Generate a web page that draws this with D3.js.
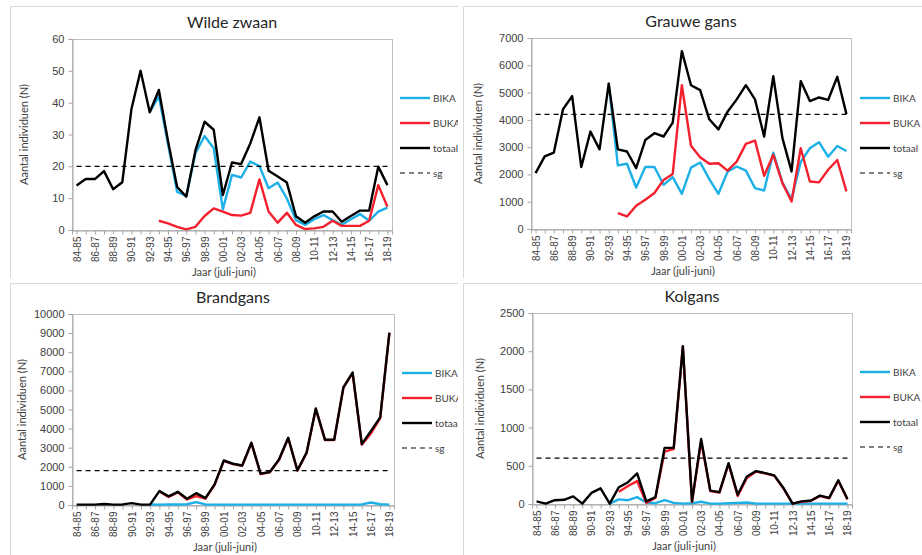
<!DOCTYPE html>
<html>
<head>
<meta charset="utf-8">
<script src="https://cdn.jsdelivr.net/npm/d3@7"></script>
<style>
  body { margin: 0; background: #fff; }
  svg { display: block; font-family: Lato, 'Open Sans', sans-serif; }
</style>
</head>
<body>
<svg id="chart" width="922" height="555"></svg>
<script>
// seizoenen (juli-juni)
const seasons = ['84-85', '85-86', '86-87', '87-88', '88-89', '89-90', '90-91', '91-92', '92-93', '93-94',
  '94-95', '95-96', '96-97', '97-98', '98-99', '99-00', '00-01', '01-02', '02-03', '03-04', '04-05',
  '05-06', '06-07', '07-08', '08-09', '09-10', '10-11', '11-12', '12-13', '13-14', '14-15', '15-16',
  '16-17', '17-18', '18-19'];
const legendNames = ['BIKA', 'BUKA', 'totaal', 'sg'];

// Wilde zwaan
const zwaanTotaal = [14, 16, 16, 18.5, 12.8, 15, 38, 50, 37, 44, 28, 13.5, 10.5, 25, 34, 31.5, 11, 21.2, 20.7,
  27.2, 35.4, 18.6, 16.8, 14.9, 4.3, 2.3, 4.3, 5.8, 5.8, 2.6, 4.4, 6.1, 6.1, 19.9, 14.1];
const zwaanBika = [null, null, null, null, null, null, null, null, 37, 42, 27, 12, 10.7, 24.1, 29.5, 25.7, 6.5,
  17.3, 16.5, 21.5, 20.1, 13.1, 14.9, 9.9, 3.1, 1.6, 3.4, 4.7, 3.1, 1.6, 3.4, 5, 2.9, 5.8, 7];
const zwaanBuka = [null, null, null, null, null, null, null, null, null, 2.9, 2.1, 1, 0.2, 1, 4.4, 6.8, 5.8,
  4.7, 4.5, 5.4, 15.9, 5.8, 2.3, 5.4, 1.6, 0.3, 0.5, 1, 2.9, 1.3, 1.3, 1.3, 2.9, 14.1, 7.3];
const zwaanSg = 20;
const zwaanTicks = [0, 10, 20, 30, 40, 50, 60];

// Grauwe gans
const grauweTotaal = [2050, 2660, 2800, 4390, 4870, 2270, 3570, 2920, 5330, 2920, 2840, 2230, 3260, 3510, 3390,
  3900, 6520, 5270, 5090, 4020, 3650, 4300, 4750, 5270, 4750, 3390, 5600, 3330, 2110, 5420, 4690, 4820, 4730,
  5580, 4210];
const grauweBika = [null, null, null, null, null, null, null, null, 5330, 2330, 2390, 1520, 2270, 2270, 1620,
  1900, 1290, 2250, 2440, 1830, 1290, 2100, 2290, 2140, 1500, 1410, 2800, 1700, 1100, 2460, 2960, 3180, 2650,
  3040, 2860];
const grauweBuka = [null, null, null, null, null, null, null, null, null, 580, 460, 850, 1070, 1320, 1800, 2020,
  5270, 3050, 2630, 2390, 2410, 2140, 2470, 3120, 3240, 1950, 2720, 1680, 1010, 2960, 1740, 1710, 2170, 2530,
  1380];
const grauweSg = 4200;
const grauweTicks = [0, 1000, 2000, 3000, 4000, 5000, 6000, 7000];

// Brandgans
const brandTotaal = [20, 20, 20, 50, 20, 30, 100, 20, 30, 730, 450, 690, 330, 620, 360, 1080, 2330, 2160, 2070,
  3260, 1640, 1730, 2380, 3520, 1820, 2740, 5050, 3420, 3420, 6160, 6930, 3190, 3880, 4590, 9030];
const brandBika = [null, null, null, null, null, null, null, null, 30, 20, 30, 30, 40, 150, 30, 20, 20, 20, 20,
  20, 20, 20, 20, 20, 20, 20, 20, 20, 20, 20, 20, 30, 130, 40, 20];
const brandBuka = [null, null, null, null, null, null, null, null, null, 710, 420, 660, 290, 470, 330, 1060, 2310,
  2140, 2050, 3240, 1620, 1710, 2360, 3500, 1800, 2720, 5030, 3400, 3400, 6140, 6910, 3160, 3750, 4550, 9010];
const brandSg = 1800;
const brandTicks = [0, 1000, 2000, 3000, 4000, 5000, 6000, 7000, 8000, 9000, 10000];

// Kolgans
const kolTotaal = [35, 5, 50, 55, 100, 5, 145, 205, 5, 220, 285, 400, 35, 90, 735, 735, 2065, 35, 850, 175, 155,
  535, 120, 360, 430, 405, 375, 210, 5, 35, 45, 110, 80, 310, 65];
const kolBika = [null, null, null, null, null, null, null, null, 5, 60, 50, 90, 20, 10, 50, 15, 5, 10, 30, 5, 5,
  10, 15, 20, 5, 5, 5, 5, 5, 5, 5, 5, 5, 5, 5];
const kolBuka = [null, null, null, null, null, null, null, null, null, 160, 235, 300, 15, 80, 685, 720, 2060, 25,
  820, 170, 150, 525, 105, 340, 425, 400, 370, 205, 5, 30, 40, 105, 75, 305, 60];
const kolSg = 600;
const kolTicks = [0, 500, 1000, 1500, 2000, 2500];

const colors = { BIKA: '#1cb0e6', BUKA: '#f5202e', totaal: '#000000', sg: '#000000' };

const panels = [
  {
    title: 'Wilde zwaan', frame: [10, 6, 448, 272], l: 72, r: 392, t: 39, b: 230,
    ticks: zwaanTicks, bika: zwaanBika, buka: zwaanBuka, totaal: zwaanTotaal, sg: zwaanSg,
    titleY: 28, yLabelX: 28, legX: 400, legY: 98,
  },
  {
    title: 'Grauwe gans', frame: [463, 6, 470, 272], l: 531, r: 851, t: 38, b: 229,
    ticks: grauweTicks, bika: grauweBika, buka: grauweBuka, totaal: grauweTotaal, sg: grauweSg,
    titleY: 27, yLabelX: 482, legX: 860, legY: 98,
  },
  {
    title: 'Brandgans', frame: [10, 283, 448, 280], l: 72, r: 394, t: 314, b: 505,
    ticks: brandTicks, bika: brandBika, buka: brandBuka, totaal: brandTotaal, sg: brandSg,
    titleY: 303, yLabelX: 26, legX: 402, legY: 373,
  },
  {
    title: 'Kolgans', frame: [463, 283, 470, 280], l: 532, r: 852, t: 313, b: 504,
    ticks: kolTicks, bika: kolBika, buka: kolBuka, totaal: kolTotaal, sg: kolSg,
    titleY: 302, yLabelX: 484, legX: 860, legY: 372,
  },
];

const svg = d3.select('#chart');
const defs = svg.append('defs');

panels.forEach((p, idx) => {
  const [fx, fy, fw, fh] = p.frame;
  defs.append('clipPath').attr('id', `clip${idx}`)
    .append('rect')
    .attr('x', fx)
    .attr('y', fy)
    .attr('width', fw)
    .attr('height', fh);

  const g = svg.append('g').attr('clip-path', `url(#clip${idx})`);
  g.append('rect')
    .attr('x', fx + 0.5)
    .attr('y', fy + 0.5)
    .attr('width', fw)
    .attr('height', fh)
    .attr('fill', '#fff')
    .attr('stroke', '#d9d9d9');

  const x = d3.scalePoint().domain(seasons).range([p.l, p.r]).padding(0.5);
  const y = d3.scaleLinear().domain([0, d3.max(p.ticks)]).range([p.b, p.t]);

  // kader om plotgebied
  g.append('rect')
    .attr('x', p.l + 0.5)
    .attr('y', p.t + 0.5)
    .attr('width', p.r - p.l)
    .attr('height', p.b - p.t)
    .attr('fill', 'none')
    .attr('stroke', '#bfbfbf');

  const yAxis = g.append('g')
    .attr('transform', `translate(${p.l + 0.5},0)`)
    .call(d3.axisLeft(y).tickValues(p.ticks).tickFormat(d3.format('d')).tickSize(4).tickPadding(4));
  yAxis.select('.domain').attr('stroke', '#a6a6a6');
  yAxis.selectAll('line').attr('stroke', '#a6a6a6');
  yAxis.selectAll('text').attr('fill', '#404040').style('font-size', '11px');

  const xAxis = g.append('g')
    .attr('transform', `translate(0,${p.b + 0.5})`)
    .call(d3.axisBottom(x).tickSize(4).tickFormat((d, i) => (i % 2 === 0 ? d : '')));
  xAxis.select('.domain').attr('stroke', '#a6a6a6');
  xAxis.selectAll('line').attr('stroke', '#a6a6a6');
  xAxis.selectAll('text')
    .attr('transform', 'rotate(-90)')
    .attr('text-anchor', 'end')
    .attr('x', -6)
    .attr('y', 0)
    .attr('dy', '0.35em')
    .attr('fill', '#404040')
    .style('font-size', '10px');

  g.append('text')
    .attr('x', (p.l + p.r) / 2)
    .attr('y', p.titleY)
    .attr('text-anchor', 'middle')
    .attr('fill', '#262626')
    .style('font-size', '16px')
    .text(p.title);

  g.append('text')
    .attr('transform', `translate(${p.yLabelX},${(p.t + p.b) / 2}) rotate(-90)`)
    .attr('text-anchor', 'middle')
    .attr('fill', '#404040')
    .style('font-size', '11px')
    .text('Aantal individuen (N)');

  g.append('text')
    .attr('x', (p.l + p.r) / 2 - 8)
    .attr('y', p.b + 46)
    .attr('text-anchor', 'middle')
    .attr('fill', '#404040')
    .style('font-size', '11px')
    .text('Jaar (juli-juni)');

  const line = d3.line()
    .defined(d => d != null)
    .x((d, i) => x(seasons[i]))
    .y(d => y(d));

  [['BIKA', p.bika], ['BUKA', p.buka], ['totaal', p.totaal]].forEach(([name, vals]) => {
    g.append('path')
      .datum(vals)
      .attr('d', line)
      .attr('fill', 'none')
      .attr('stroke', colors[name])
      .attr('stroke-width', 2.4)
      .attr('stroke-linejoin', 'round');
  });

  g.append('line')
    .attr('x1', x(seasons[0]))
    .attr('x2', x(seasons[seasons.length - 1]))
    .attr('y1', y(p.sg))
    .attr('y2', y(p.sg))
    .attr('stroke', colors.sg)
    .attr('stroke-width', 1.2)
    .attr('stroke-dasharray', '5,4');

  // legenda
  const leg = g.selectAll('.leg')
    .data(legendNames)
    .enter()
    .append('g')
    .attr('transform', (d, i) => `translate(${p.legX},${p.legY + i * 25})`);
  leg.append('line')
    .attr('x1', 0)
    .attr('x2', 30)
    .attr('stroke', d => colors[d])
    .attr('stroke-width', d => (d === 'sg' ? 1.2 : 2.4))
    .attr('stroke-dasharray', d => (d === 'sg' ? '5,4' : null));
  leg.append('text')
    .attr('x', 33)
    .attr('dy', '0.35em')
    .attr('fill', '#404040')
    .style('font-size', '10px')
    .text(d => d);
});
</script>
</body>
</html>
